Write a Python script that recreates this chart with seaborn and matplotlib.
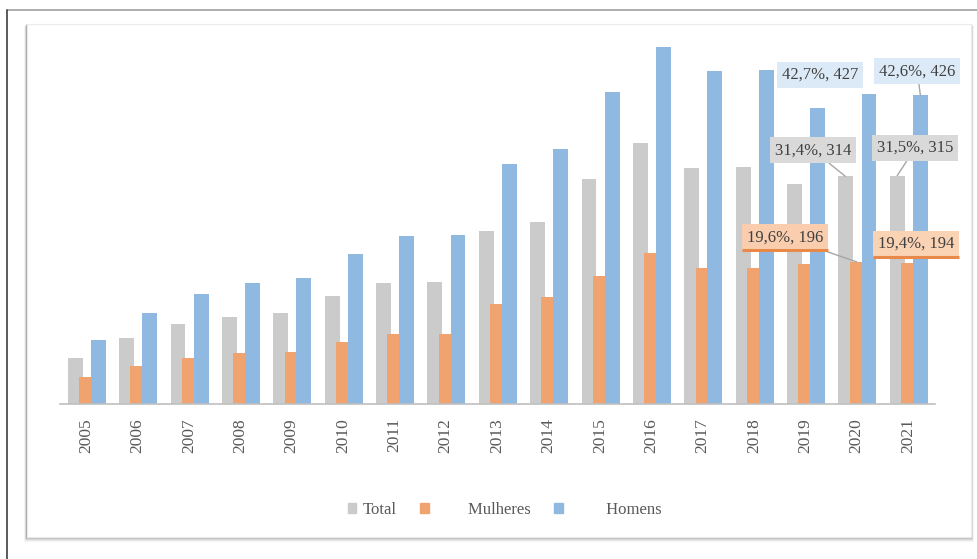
import numpy as np
import pandas as pd
import matplotlib
matplotlib.use('Agg')
import matplotlib.pyplot as plt
from matplotlib.patches import Rectangle
from matplotlib.lines import Line2D
import seaborn as sns

YEARS = list(range(2005, 2022))
TOTAL = [64, 91, 110, 120, 125, 149, 167, 168, 239, 251, 310, 360, 325, 327, 304, 314, 315]
MULHERES = [37, 53, 64, 70, 72, 86, 97, 97, 138, 148, 177, 208, 187, 188, 193, 196, 194]
HOMENS = [88, 126, 152, 167, 174, 207, 232, 233, 331, 352, 430, 492, 459, 460, 408, 427, 426]

SERIES = ['Total', 'Mulheres', 'Homens']
COLORS = {'Total': '#CBCBCB', 'Mulheres': '#F0A36E', 'Homens': '#8FB9E1'}

sns.set_theme(style='white')
plt.rcParams['font.family'] = ['Liberation Serif', 'DejaVu Serif']

df = pd.DataFrame({'ano': YEARS, 'Total': TOTAL, 'Mulheres': MULHERES, 'Homens': HOMENS})

fig = plt.figure(figsize=(9.77, 5.59), dpi=100)
W, H = 977, 559


def fx(px):
    return px / W


def fy(py):
    return 1 - py / H


# outer page lines
fig.add_artist(Line2D([fx(7), 1], [fy(10), fy(10)], color='#A0A0A0', lw=1.2, zorder=-5))
fig.add_artist(Line2D([fx(7), fx(7)], [fy(10), 0], color='#404040', lw=1.2, zorder=-5))

# inner chart frame with a soft shadow (mostly below / right)
for d, a in [(5, 0.04), (4, 0.05), (3, 0.07), (2, 0.09), (1, 0.12)]:
    fig.add_artist(Rectangle((fx(27 - d * 0.6), fy(537 + d)),
                             fx(944 + d * 1.2), (513 + d * 0.6) / H,
                             facecolor='#000000', alpha=a, edgecolor='none', zorder=-4))
fig.add_artist(Rectangle((fx(27), fy(537)), fx(944), 513 / H,
                         facecolor='white', edgecolor='#EBEBEB', lw=0.8, zorder=-3))

ax = fig.add_axes([fx(60), fy(404), fx(875), 364 / H])
ax.set_facecolor('none')

offsets = {'Total': -0.21, 'Mulheres': 0.0, 'Homens': 0.24}
widths = {'Total': 0.29, 'Mulheres': 0.27, 'Homens': 0.29}
for s in SERIES:
    sns.barplot(x=df['ano'] + offsets[s], y=df[s], native_scale=True,
                width=widths[s], color=COLORS[s], saturation=1,
                errorbar=None, linewidth=0, edgecolor='none', ax=ax)

ax.set_xlim(2004.494, 2021.525)
ax.set_ylim(0, 502)
ax.set_xticks(YEARS)
ax.set_xticklabels([str(y) for y in YEARS], rotation=90, fontsize=12.5, color='#595959')
ax.tick_params(axis='x', length=0, pad=10)
ax.set_yticks([])
ax.set_xlabel('')
ax.set_ylabel('')
for side in ['top', 'left', 'right']:
    ax.spines[side].set_visible(False)
ax.spines['bottom'].set_color('#BFBFBF')
ax.spines['bottom'].set_linewidth(1.2)

# data labels (share %, value)
labels = [
    ('42,7%, 427', (2019.29, 454), None, '#DCEAF7', '#DCEAF7'),
    ('42,6%, 426', (2021.18, 459), (2021.24, 426), '#DCEAF7', '#DCEAF7'),
    ('31,4%, 314', (2019.15, 350), (2019.78, 314), '#D9D9D9', '#D9D9D9'),
    ('31,5%, 315', (2021.14, 353), (2020.79, 315), '#D9D9D9', '#D9D9D9'),
    ('19,6%, 196', (2018.61, 230), (2020.0, 196), '#F9CDAE', '#E8894A'),
    ('19,4%, 194', (2021.16, 221), None, '#FAD2B4', '#E8894A'),
]
for txt, pos, tip, bg, edge in labels:
    kw = dict(ha='center', va='center', fontsize=12, color='#404040',
              bbox=dict(boxstyle='square,pad=0.3', facecolor=bg, edgecolor='none'),
              annotation_clip=False, zorder=5)
    if tip is not None:
        kw['arrowprops'] = dict(arrowstyle='-', color='#A6A6A6', lw=1, shrinkA=0, shrinkB=0)
        t = ax.annotate(txt, xy=tip, xytext=pos, **kw)
    else:
        t = ax.annotate(txt, xy=pos, **kw)
    if edge != bg:
        fig.canvas.draw()
        bb = t.get_bbox_patch().get_window_extent().transformed(ax.transData.inverted())
        ax.plot([bb.x0, bb.x1], [bb.y0, bb.y0], color=edge, lw=2.2, zorder=6,
                clip_on=False, solid_capstyle='butt')

handles = [Rectangle((0, 0), 1, 1, color=COLORS[s]) for s in SERIES]
leg_labels = ['Total', '        Mulheres', '         Homens']
fig.legend(handles, leg_labels, loc='center', bbox_to_anchor=(fx(505), fy(510)),
           ncol=3, frameon=False, fontsize=12, handlelength=0.5, handleheight=0.5,
           handletextpad=0.4, columnspacing=1.4, labelcolor='#595959')

fig.savefig('out.png', dpi=100)
